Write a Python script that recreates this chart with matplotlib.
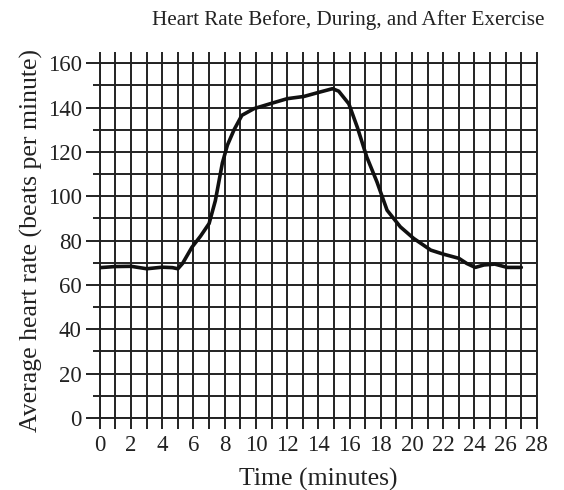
import matplotlib
matplotlib.use("Agg")
import matplotlib.pyplot as plt
from matplotlib.ticker import MultipleLocator, FuncFormatter

time_min = [0.0, 1.0, 2.0, 3.0, 4.0, 4.65, 5.0, 5.3, 5.9, 6.45, 7.0, 7.4, 7.85, 8.17, 8.6,
            9.1, 9.87, 10.9, 12.0, 13.07, 14.1, 14.9, 15.3, 15.95, 16.5, 17.1, 17.75,
            18.4, 19.25, 20.1, 21.2, 22.0, 23.0, 23.5, 24.05, 24.6, 25.3, 26.1, 27.0]
heart_rate = [67.8, 68.3, 68.4, 67.3, 68.0, 67.8, 67.3, 69.7, 77.0, 82.0, 87.7, 98.0, 115.0,
              123.0, 130.0, 136.5, 139.5, 141.7, 144.0, 145.0, 147.0, 148.5, 147.4, 141.7,
              131.0, 117.7, 106.5, 93.7, 86.2, 81.0, 75.7, 73.9, 72.0, 69.7, 67.9, 69.0,
              69.4, 67.9, 67.9]

plt.rcParams['font.family'] = ['Liberation Serif', 'DejaVu Serif']

fig = plt.figure(figsize=(5.64, 4.90), dpi=100)
ax = fig.add_axes([0.177, 0.147, 0.775, 0.724])

ax.plot(time_min, heart_rate, color='#111111', lw=2.6, solid_joinstyle='round',
        solid_capstyle='round', zorder=3)

ax.set_xlim(0, 28)
ax.set_ylim(0, 160)
ax.xaxis.set_major_locator(MultipleLocator(1))
ax.xaxis.set_major_formatter(FuncFormatter(lambda v, p: f"{int(round(v))}" if int(round(v)) % 2 == 0 else ""))
ax.yaxis.set_major_locator(MultipleLocator(20))
ax.yaxis.set_minor_locator(MultipleLocator(10))

gc = '#222222'
ax.grid(True, which='both', color=gc, lw=1.4)
ax.set_axisbelow(True)
for s in ax.spines.values():
    s.set_color(gc)
    s.set_linewidth(1.4)
ax.tick_params(axis='x', which='major', direction='out', length=8, width=1.4,
               color=gc, labelsize=16.5, pad=4, labelcolor='#222222', top=True)
ax.tick_params(axis='y', which='major', direction='out', length=10, width=1.4,
               color=gc, labelsize=16.5, pad=3, labelcolor='#222222')
ax.tick_params(axis='y', which='minor', direction='out', length=5, width=1.4, color=gc)

fig.text(0.617, 0.959, "Heart Rate Before, During, and After Exercise",
         ha='center', va='center', fontsize=15.2, color='#222222')
ax.set_xlabel("Time (minutes)", fontsize=18.5, color='#222222', labelpad=9)
ax.set_ylabel("Average heart rate (beats per minute)", fontsize=18.5, color='#222222', labelpad=3)

fig.savefig("out.png", dpi=100)
